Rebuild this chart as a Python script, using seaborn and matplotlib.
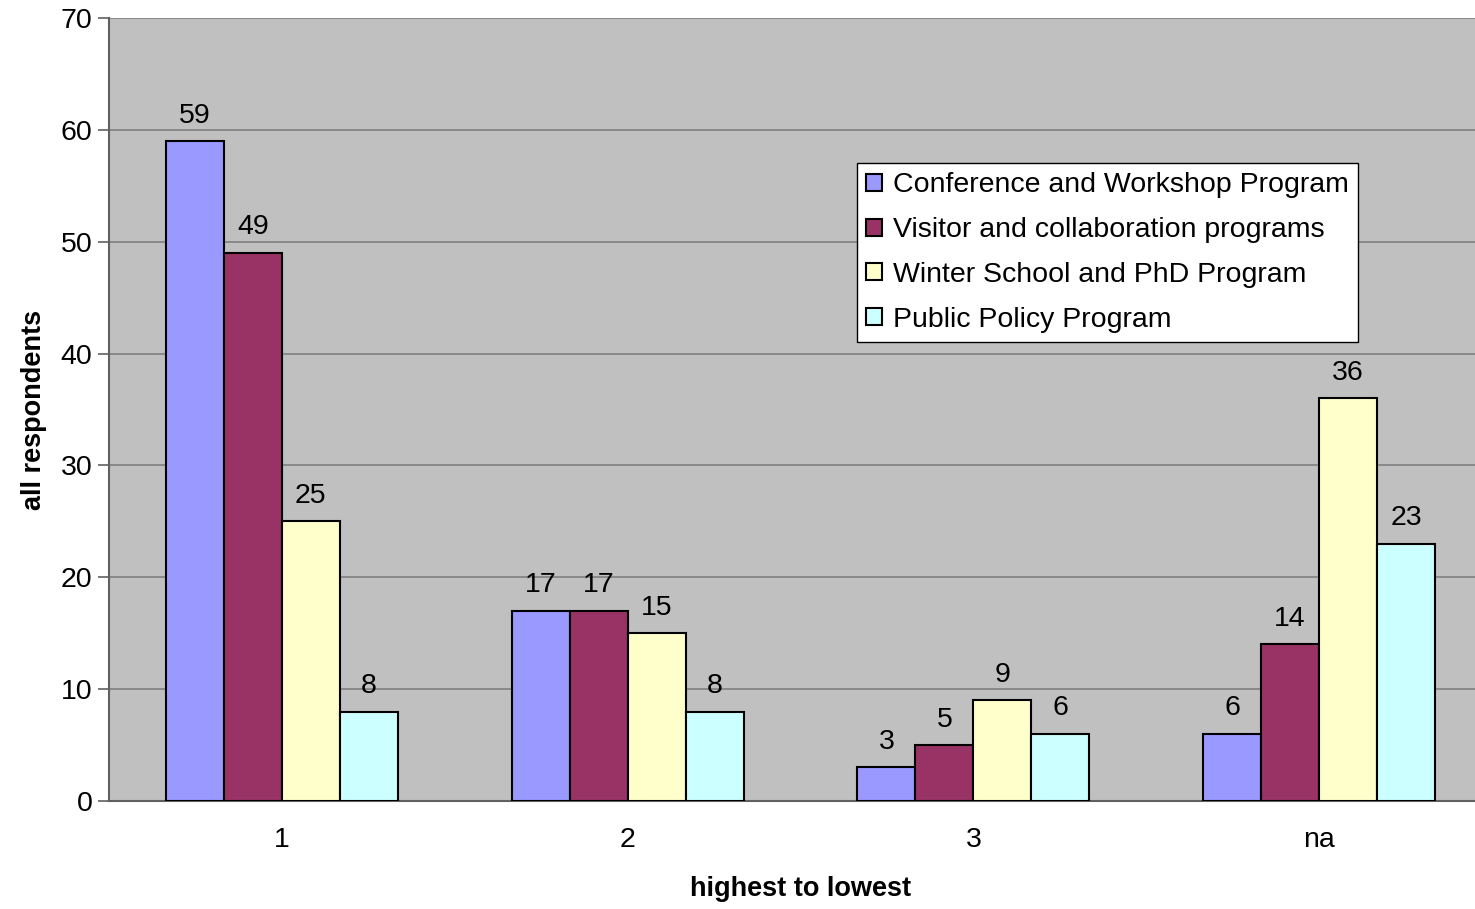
import pandas as pd
import numpy as np
import matplotlib.pyplot as plt
import seaborn as sns

# --- data ---
categories = ['1', '2', '3', 'na']
programs = ['Conference and Workshop Program',
            'Visitor and collaboration programs',
            'Winter School and PhD Program',
            'Public Policy Program']
conference = [59, 17, 3, 6]
visitor = [49, 17, 5, 14]
winter = [25, 15, 9, 36]
public = [8, 8, 6, 23]

colors = ['#9999FF', '#993366', '#FFFFCC', '#CCFFFF']

df = pd.DataFrame({
    'rank': categories * 4,
    'program': np.repeat(programs, 4),
    'count': conference + visitor + winter + public,
})

sns.set_style("white")
plt.rcParams['font.family'] = ['Liberation Sans', 'DejaVu Sans']
plt.rcParams['text.color'] = 'black'
plt.rcParams['xtick.labelcolor'] = 'black'
plt.rcParams['ytick.labelcolor'] = 'black'
plt.rcParams['axes.labelcolor'] = 'black'

fs = 20.5

fig = plt.figure(figsize=(14.75, 9.09), dpi=100)
# plot area runs slightly past the right edge, as in the original
ax = fig.add_axes([109 / 1475, 1 - 801 / 909, 1383 / 1475, 783 / 909])
ax.set_facecolor('#C0C0C0')

sns.barplot(data=df, x='rank', y='count', hue='program', order=categories,
            hue_order=programs, palette=colors, width=0.671, gap=0,
            edgecolor='black', linewidth=1.5, saturation=1, ax=ax, zorder=3)

for cont in ax.containers:
    ax.bar_label(cont, padding=9, fontsize=fs, color='black')

ax.set_ylim(0, 70)
ax.set_xlim(-0.5, 3.5)
ax.set_yticks(range(0, 71, 10))
ax.yaxis.grid(True, color='#808080', linewidth=1.2, zorder=0)
ax.set_axisbelow(True)

# x ticks at category boundaries, labels centred
ax.set_xticks([0.5, 1.5, 2.5], minor=True)
ax.tick_params(axis='x', which='major', length=0, pad=19, labelsize=fs)
ax.tick_params(axis='x', which='minor', length=8, width=1.2, color='#606060', direction='out')
ax.tick_params(axis='y', length=8, width=1.2, color='#606060', direction='out',
               left=True, labelsize=fs, pad=4)

for s in ['top', 'right']:
    ax.spines[s].set_visible(False)
for s in ['left', 'bottom']:
    ax.spines[s].set_color('#606060')
    ax.spines[s].set_linewidth(1.5)

ax.set_xlabel('highest to lowest', fontsize=fs - 1, fontweight='bold', labelpad=16)
ax.set_ylabel('all respondents', fontsize=fs - 1, fontweight='bold', labelpad=10)

leg = ax.legend(loc='upper left', bbox_to_anchor=(748 / 1383, 1 - 145 / 783),
                fontsize=fs, frameon=True, fancybox=False, framealpha=1,
                edgecolor='black', handlelength=0.55, handleheight=0.55,
                handletextpad=0.38, borderpad=0.33, labelspacing=0.66,
                borderaxespad=0)
leg.get_frame().set_linewidth(1.0)

plt.savefig('out.png', dpi=100)
